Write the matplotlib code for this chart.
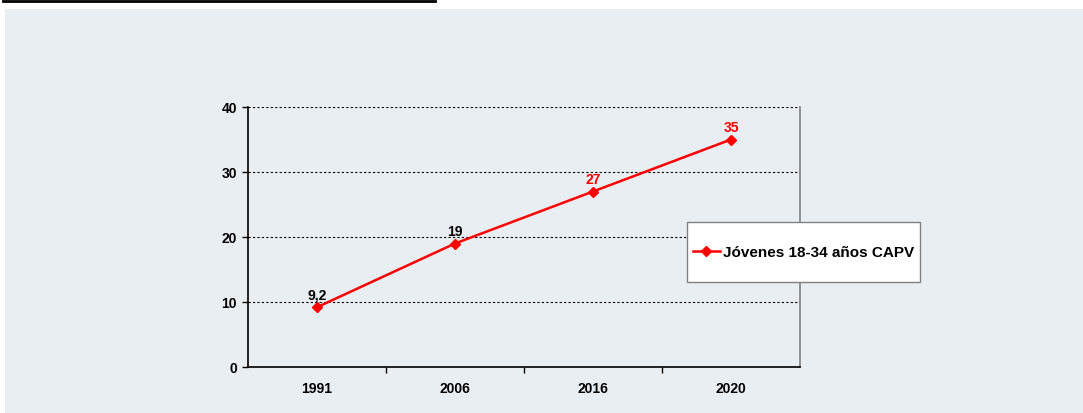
import numpy as np
import matplotlib.pyplot as plt
from matplotlib.patches import Rectangle
from matplotlib.lines import Line2D

years = ["1991", "2006", "2016", "2020"]
values = [9.2, 19, 27, 35]
value_labels = ["9,2", "19", "27", "35"]
label_colors = ["black", "black", "red", "red"]
series_name = "Jóvenes 18-34 años CAPV"

plt.rcParams['font.family'] = ['Liberation Sans', 'DejaVu Sans']
plt.rcParams['font.weight'] = 'bold'

bg = "#e9eef2"
W, H = 1083, 414
fig = plt.figure(figsize=(W / 100, H / 100), dpi=100)
fig.patch.set_facecolor("white")

# background panel and top rule
fig.add_artist(Rectangle((5 / W, 0), 1 - 5 / W, 1 - 10 / H, transform=fig.transFigure,
                         facecolor=bg, edgecolor="none", zorder=0))
fig.add_artist(Line2D([3 / W, 435 / W], [1 - 1.5 / H, 1 - 1.5 / H], transform=fig.transFigure,
                      color="black", lw=2))

ax = fig.add_axes([248 / W, 1 - 368 / H, (800 - 248) / W, (368 - 108) / H])
ax.set_facecolor(bg)
x = np.arange(len(years))
ax.plot(x, values, color="red", lw=1.8, marker="D", markersize=5, zorder=3)
for xi, v, lab, c in zip(x, values, value_labels, label_colors):
    ax.annotate(lab, (xi, v), xytext=(0, 4), textcoords="offset points",
                ha="center", va="bottom", color=c, fontsize=10, fontweight="bold")

ax.set_xlim(-0.5, 3.5)
ax.set_ylim(0, 40)
ax.set_yticks([0, 10, 20, 30, 40])
ax.set_xticks(x)
ax.set_xticklabels(years)
ax.set_xticks(np.arange(0.5, 3.5, 1), minor=True)
ax.tick_params(axis="x", which="major", length=0, pad=10, labelsize=10)
ax.tick_params(axis="x", which="minor", length=4, direction="out", width=1)
ax.tick_params(axis="y", length=4, width=1, direction="out", labelsize=10, pad=4)
for y in [10, 20, 30, 40]:
    ax.axhline(y, color="black", lw=0.8, ls=(0, (2, 2)), zorder=1)
ax.spines["left"].set_linewidth(1.2)
ax.spines["bottom"].set_linewidth(1.2)
ax.spines["top"].set_visible(False)
ax.spines["right"].set_color("#808080")
ax.spines["right"].set_linewidth(1.2)

# legend box
fig.add_artist(Rectangle((687 / W, 1 - 283 / H), 233 / W, 60 / H, transform=fig.transFigure,
                         facecolor="white", edgecolor="#808080", lw=1, zorder=5))
leg = fig.legend([Line2D([], [], color="red", lw=1.8, marker="D", markersize=5)],
                 [series_name], loc="center", bbox_to_anchor=(803.5 / W, 1 - 253 / H),
                 frameon=False, fontsize=11, handlelength=1.8, handletextpad=0.2,
                 borderpad=0, borderaxespad=0)
leg.set_zorder(6)
for t in leg.get_texts():
    t.set_fontweight("bold")

fig.savefig("out.png", dpi=100, facecolor=fig.get_facecolor())
